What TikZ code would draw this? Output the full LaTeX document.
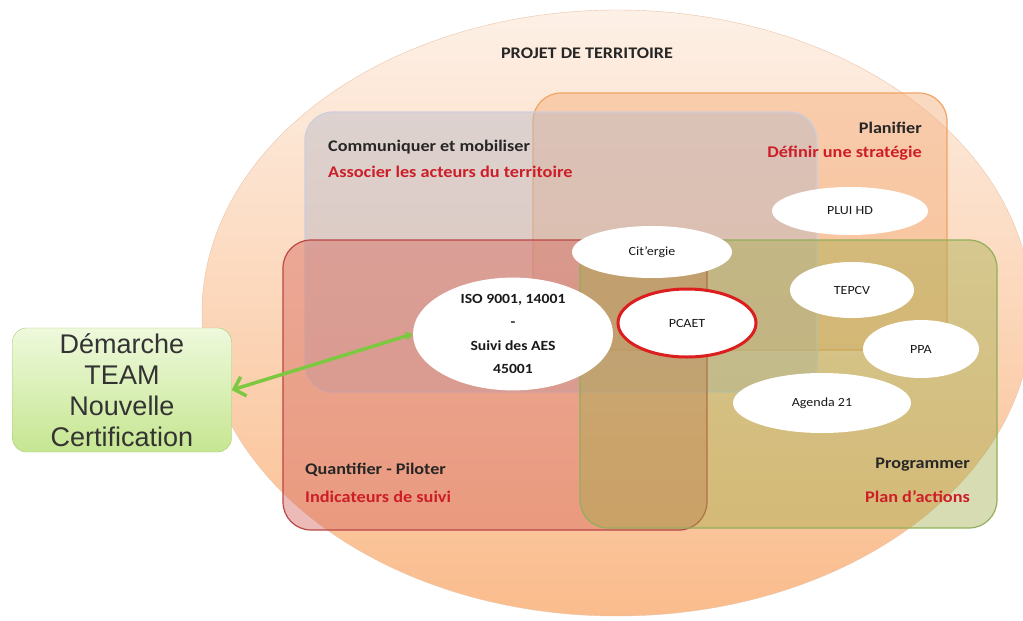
\documentclass[tikz,border=0pt]{standalone}
\usepackage{fontspec}
\setmainfont{Carlito}[FakeStretch=1.12]
\newfontfamily\teamfont{Liberation Sans}
\usetikzlibrary{shapes.geometric,arrows.meta}
\definecolor{peachtop}{RGB}{253,240,230}
\definecolor{peachbot}{RGB}{250,188,140}
\definecolor{peachline}{RGB}{235,195,165}
\definecolor{grayfill}{RGB}{185,185,200}
\definecolor{orangefill}{RGB}{245,170,118}
\definecolor{orangeline}{RGB}{240,165,100}
\definecolor{redfill}{RGB}{215,105,95}
\definecolor{redline}{RGB}{185,70,70}
\definecolor{greenfill}{RGB}{160,172,72}
\definecolor{greenline}{RGB}{145,175,90}
\definecolor{labelred}{RGB}{205,30,40}
\definecolor{teamtop}{RGB}{238,249,220}
\definecolor{teambot}{RGB}{198,230,145}
\definecolor{teamline}{RGB}{165,205,115}
\definecolor{arrowgreen}{RGB}{125,200,65}
\definecolor{pcaetred}{RGB}{220,30,30}
\tikzstyle{zone} = [rounded corners=28, line width=1.2, fill opacity=0.45]
\tikzstyle{blob} = [ellipse, fill=white, inner sep=0, text=black!90, font=\fontsize{12.5}{14}\selectfont]
\tikzstyle{zonetitle} = [inner sep=0, text=black!85, font=\fontsize{16.2}{18}\selectfont\bfseries]
\tikzstyle{zonesub} = [inner sep=0, text=labelred, font=\fontsize{16.3}{19}\selectfont\bfseries]

\begin{document}
\begin{tikzpicture}[x=1pt,y=-1pt]
\useasboundingbox (0,0) rectangle (1023,621);
\shade[top color=peachtop, bottom color=peachbot, draw=peachline] (617,313) ellipse [x radius=415, y radius=303];

\draw[zone, draw=orangeline, fill=orangefill] (533,93) rectangle (947,350);
\draw[zone, draw=grayfill!70, fill=grayfill] (305,112) rectangle (817,392);
\draw[zone, draw=redline, fill=redfill] (283,240) rectangle (707,530);
\draw[zone, draw=greenline, fill=greenfill, fill opacity=0.42] (580,240) rectangle (997,528);

\node[zonetitle] (title) at (587,53) {PROJET DE TERRITOIRE};
\node[zonetitle, anchor=west] (comm) at (328,147) {Communiquer et mobiliser};
\node[zonesub, anchor=west] (assoc) at (328,172) {Associer les acteurs du territoire};
\node[zonetitle, anchor=east] (plan) at (922,128) {Planifier};
\node[zonesub, anchor=east] (strat) at (922,153) {Définir une stratégie};
\node[zonetitle, anchor=west] (quant) at (305,470) {Quantifier - Piloter};
\node[zonesub, anchor=west] (indic) at (305,497) {Indicateurs de suivi};
\node[zonetitle, anchor=east] (prog) at (970,465) {Programmer};
\node[zonesub, anchor=east] (actions) at (970,497) {Plan d’actions};

\foreach \name/\x/\y/\w/\h/\txt in {plui/850/211/156/48/PLUI HD, citergie/652/252/160/52/Cit’ergie, tepcv/852/290/124/56/TEPCV, ppa/921/349/116/58/PPA, agenda/822/403/178/60/Agenda 21}
{
	\node[blob, minimum width=\w, minimum height=\h] (\name) at (\x,\y) {\txt};
}
\node[blob, minimum width=200, minimum height=108, align=center, font=\fontsize{14}{23.5}\selectfont\bfseries] (iso) at (513,334) {ISO 9001, 14001\\-\\Suivi des AES\\45001};
\node[blob, draw=pcaetred, line width=3, minimum width=138, minimum height=68] (pcaet) at (687,323) {PCAET};

\node[rounded corners=14, draw=teamline, top color=teamtop, bottom color=teambot, minimum width=219, minimum height=124, align=center, text=black!80, font=\teamfont\fontsize{27}{31}\selectfont] (team) at (122,390) {Démarche\\TEAM\\Nouvelle\\Certification};

\draw[arrowgreen, line width=3.5, {Straight Barb[length=10,width=20]}-{Triangle[length=7,width=9]}] (team.east) -- (iso.west);
\end{tikzpicture}
\end{document}
